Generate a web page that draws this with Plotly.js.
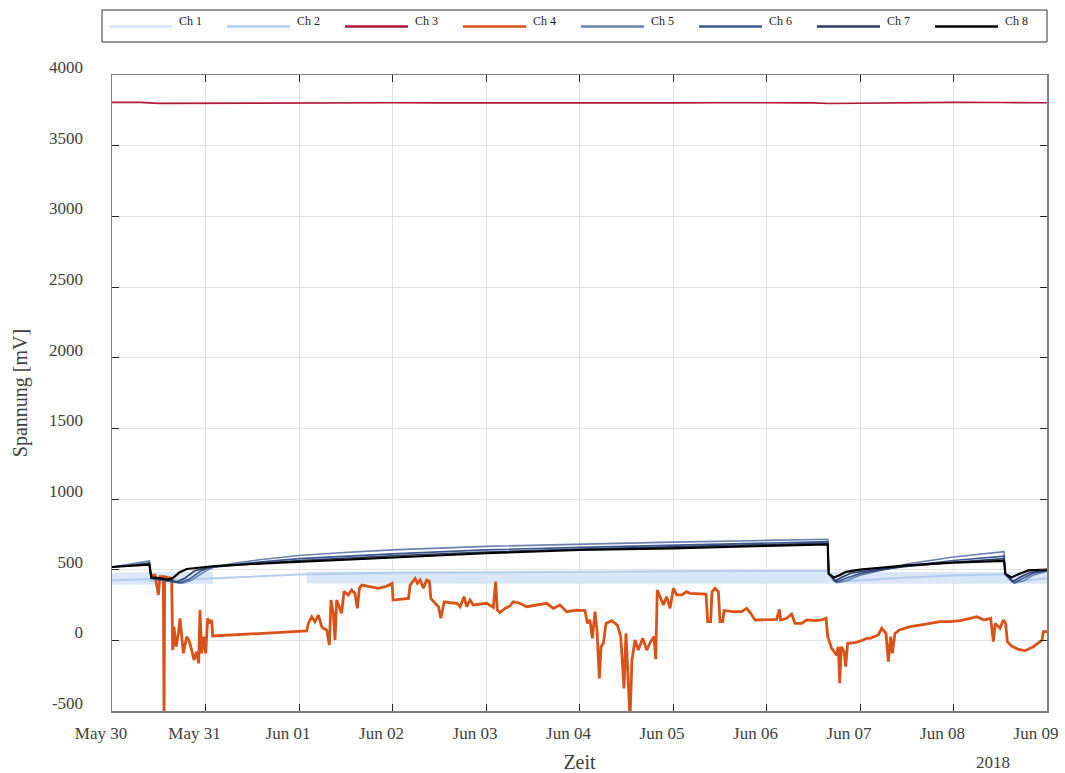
<!DOCTYPE html>
<html>
<head>
<meta charset="utf-8">
<script src="https://cdn.plot.ly/plotly-3.0.1.min.js"></script>
<style>html,body{margin:0;padding:0;background:#fff;}#chart{width:1065px;height:773px;}</style>
</head>
<body>
<div id="chart"></div>
<script>
// ---- data (x = days since 2018-05-30 00:00, y = mV) ----
const seriesNames = ["Ch 1","Ch 2","Ch 3","Ch 4","Ch 5","Ch 6","Ch 7","Ch 8"];
const tickLabels = ["May 30","May 31","Jun 01","Jun 02","Jun 03","Jun 04","Jun 05","Jun 06","Jun 07","Jun 08","Jun 09"];
const yTickVals = [-500,0,500,1000,1500,2000,2500,3000,3500,4000];
const yTickText = ["-500","0","500","1000","1500","2000","2500","3000","3500","4000"];

const ch1Days = [0,0.2,0.4,0.45,0.7,1.08,1.09,2.07,2.08,3,4,5,6,7,7.66,7.8,8.5,9.5,9.6,10];
const ch1Vals = [436,438,442,434,438,442,null,null,444,445,446,446,446,446,444,440,442,444,440,442];

const ch2Days = [0,0.4,0.42,0.7,1,1.5,2,3,4,5,6,7,7.65,7.7,7.8,8.2,8.5,9,9.54,9.6,9.7,10];
const ch2Vals = [425,432,420,428,440,452,465,478,483,487,489,490,491,440,418,432,445,458,468,425,418,440];

const ch3Days = [0,0.3,0.5,0.8,1,1.5,2,2.5,3,3.5,4,4.5,5,5.5,6,6.5,7,7.5,7.66,8,8.5,9,9.5,10];
const ch3Vals = [3806,3806,3799,3800,3801,3803,3804,3805,3804,3803,3802,3805,3805,3803,3803,3804,3804,3803,3798,3801,3804,3806,3805,3804];

const ch4Days = [0.406,0.46,0.496,0.513,0.549,0.556,0.563,0.638,0.649,0.663,0.685,0.71,0.728,0.745,0.763,0.799,0.827,0.852,0.877,0.906,0.927,0.941,0.959,0.984,1.002,1.023,1.048,1.066,1.077,
  2.082,2.1,2.136,2.171,2.207,2.243,2.26,2.296,2.325,2.342,2.367,2.385,2.403,2.431,2.456,2.481,2.528,2.563,2.599,2.624,2.646,2.671,2.76,2.849,2.939,2.996,3.006,3.082,3.171,3.189,3.242,3.267,3.296,3.331,3.366,3.395,3.41,3.456,3.492,3.517,3.553,3.617,3.688,3.724,3.765,3.793,3.829,3.864,3.935,4.007,4.078,4.103,4.121,4.149,4.203,4.257,
  4.292,4.364,4.435,4.542,4.649,4.72,4.791,4.863,4.97,5.059,5.084,5.112,5.137,5.166,5.187,5.212,5.23,5.255,5.284,5.344,5.405,5.441,5.476,5.497,5.519,5.54,5.561,5.594,5.629,5.676,5.719,5.761,5.797,5.815,5.832,5.861,5.897,5.932,5.968,6.004,6.039,6.093,6.147,
  6.182,6.271,6.353,6.371,6.403,6.417,6.449,6.485,6.503,6.531,6.546,6.645,6.735,6.788,6.831,6.877,7.002,7.109,7.137,7.152,7.216,7.269,7.305,7.376,7.43,7.519,7.591,7.637,7.655,7.697,7.751,7.768,7.783,7.8,7.829,7.847,7.868,7.946,8.018,8.071,
  8.107,8.196,8.232,8.278,8.303,8.328,8.346,8.374,8.421,8.535,8.642,8.749,8.856,8.963,9.07,9.177,9.248,9.327,9.398,9.426,9.447,9.497,9.533,9.558,9.576,9.622,9.693,9.765,9.854,9.925,9.947,9.961,10];
const ch4Vals = [462,462,321,450,450,-560,450,438,-69,97,-45,49,156,26,-92,26,-9,-69,-139,-80,-163,214,-92,26,-92,156,120,144,31,
  66,120,167,132,179,97,85,73,-33,285,191,2,285,238,191,344,321,356,332,226,368,391,380,368,384,403,285,290,297,391,438,403,427,368,427,415,297,262,238,156,273,266,262,238,309,238,285,250,257,262,233,415,214,196,226,243,
  273,262,238,250,262,226,250,203,214,210,120,144,14,203,73,-269,-45,-21,120,139,108,26,-340,49,-210,-560,-139,2,-69,14,-69,-9,26,-134,356,309,250,309,226,368,321,321,344,
  332,328,328,132,132,344,368,344,132,132,210,203,203,226,191,144,144,148,219,144,156,186,120,120,144,139,144,156,26,-57,-104,-45,-304,-45,-80,-186,-21,-17,-2,14,
  14,38,85,49,-151,26,-92,49,73,97,108,120,132,132,139,156,167,144,156,-9,120,85,144,120,-9,-40,-64,-73,-45,-9,2,61,61];

const ch5Days = [0,0.2,0.4,0.415,0.42,0.6,0.75,0.85,1,1.1,1.3,1.6,2,2.44,3,4,5,6,7,7.655,7.665,7.75,7.85,8,8.5,9,9.54,9.555,9.65,9.75,9.85,10];
const ch5Vals = [519,540,562,470,440,418,405,425,490,520,545,572,600,620,640,665,682,695,707,715,480,408,420,460,540,590,628,470,405,420,460,490];

const ch6Days = [0,0.2,0.4,0.415,0.42,0.6,0.72,0.82,0.95,1.05,1.2,1.6,2,3,4,5,6,7,7.655,7.665,7.75,7.85,8,8.5,9,9.54,9.555,9.65,9.75,9.85,10];
const ch6Vals = [519,530,548,465,438,420,408,430,490,515,530,555,578,612,640,658,672,686,698,475,412,440,472,528,565,596,470,408,440,475,492];

const ch7Days = [0,0.2,0.4,0.415,0.42,0.6,0.7,0.78,0.88,1,1.1,1.5,2,3,4,5,6,7,7.655,7.665,7.73,7.8,7.9,8,8.5,9,9.54,9.555,9.63,9.72,9.82,10];
const ch7Vals = [519,528,542,460,440,425,415,440,490,512,520,540,565,598,625,645,660,676,688,472,418,445,475,485,522,552,578,468,415,450,480,494];

const ch8Days = [0,0.2,0.4,0.415,0.42,0.5,0.6,0.65,0.72,0.8,0.95,1.1,1.5,2,3,4,5,6,7,7.655,7.665,7.72,7.78,7.85,8,8.5,9,9.54,9.555,9.62,9.7,9.8,10];
const ch8Vals = [519,528,536,470,445,440,430,440,480,505,518,526,540,556,587,616,639,650,668,678,470,445,460,485,500,530,550,562,470,445,470,495,500];

const colors = ["#d9e7f8","#b3cdee","#b2183c","#d95319","#6982af","#3b5895","#2a3c64","#000000"];
const widths = [12,2,1.6,2.8,1.6,1.6,1.6,2.2];

// ---- build ----
const base = Date.UTC(2018,4,30);
const toT = d => base + d*86400000;
const allDays = [ch1Days,ch2Days,ch3Days,ch4Days,ch5Days,ch6Days,ch7Days,ch8Days];
const allVals = [ch1Vals,ch2Vals,ch3Vals,ch4Vals,ch5Vals,ch6Vals,ch7Vals,ch8Vals];

const traces = seriesNames.map((n,i)=>({
  type:'scatter', mode:'lines', name:n,
  x: allDays[i].map(toT), y: allVals[i],
  line:{color:colors[i], width:widths[i]},
  connectgaps:false, showlegend:false, hoverinfo:'skip'
}));

const FONT = "Liberation Serif, Times New Roman, serif";
const W = 1065, H = 773, L = 112, R = 1047, T = 75, B = 711;
const px2x = p => (p - L)/(R - L);
const py2y = p => (B - p)/(B - T);

const shapes = [{type:'rect', xref:'paper', yref:'paper', x0:px2x(102), x1:px2x(1047), y0:py2y(42), y1:py2y(10),
  line:{color:'#333333', width:1}, fillcolor:'rgba(255,255,255,0)'}];
const annotations = [];
seriesNames.forEach((n,i)=>{
  shapes.push({type:'line', xref:'paper', yref:'paper', x0:px2x(109+118*i), x1:px2x(172+118*i), y0:py2y(26.5), y1:py2y(26.5),
    line:{color:colors[i], width: i===0 ? 3 : 2.5}});
  annotations.push({xref:'paper', yref:'paper', x:px2x(177+118*i), y:py2y(21), xanchor:'left', yanchor:'middle',
    text:n, showarrow:false, font:{family:FONT, size:12, color:'#222'}});
});
annotations.push({xref:'paper', yref:'paper', x:px2x(993), y:py2y(762), xanchor:'center', yanchor:'middle',
  text:'2018', showarrow:false, font:{family:FONT, size:17, color:'#404040'}});

const layout = {
  width:W, height:H,
  margin:{l:L, r:W-R, t:T, b:H-B, pad:0},
  paper_bgcolor:'#ffffff', plot_bgcolor:'#ffffff',
  font:{family:FONT, color:'#404040', size:17},
  showlegend:false,
  xaxis:{
    type:'date', range:[toT(0), toT(10)],
    tickvals: tickLabels.map((_,i)=>toT(i)), ticktext: tickLabels,
    ticks:'inside', ticklen:7, tickwidth:1, tickcolor:'#262626',
    showline:true, linecolor:'#808080', linewidth:1.5, mirror:'ticks',
    showgrid:true, gridcolor:'#e2e2e2', gridwidth:1, zeroline:false,
    tickfont:{family:FONT, size:17, color:'#404040'},
    ticklabelshift:-11, ticklabelstandoff:6,
    title:{text:'Zeit', font:{family:FONT, size:20, color:'#404040'}, standoff:17},
    automargin:false
  },
  yaxis:{
    range:[-500,4000], tickvals:yTickVals, ticktext:yTickText,
    ticks:'inside', ticklen:7, tickwidth:1, tickcolor:'#262626',
    showline:true, linecolor:'#808080', linewidth:1.5, mirror:'ticks',
    showgrid:true, gridcolor:'#e2e2e2', gridwidth:1, zeroline:false,
    tickfont:{family:FONT, size:17, color:'#404040'},
    ticklabelshift:-8, ticklabelstandoff:24,
    title:{text:'Spannung [mV]', font:{family:FONT, size:20, color:'#404040'}, standoff:16},
    automargin:false
  },
  shapes:shapes, annotations:annotations
};

Plotly.newPlot('chart', traces, layout, {displayModeBar:false, staticPlot:true});
</script>
</body>
</html>
